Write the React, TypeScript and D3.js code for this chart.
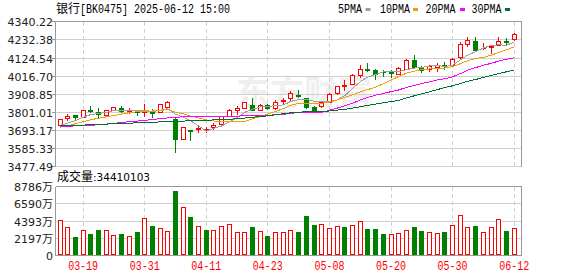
import React from 'react';
import * as d3 from 'd3';

const dates = ['03-14','03-17','03-18','03-19','03-20','03-21','03-24','03-25','03-26','03-27','03-28','03-31','04-01','04-02','04-03','04-07','04-08','04-09','04-10','04-11','04-14','04-15','04-16','04-17','04-18','04-21','04-22','04-23','04-24','04-25','04-28','04-29','04-30','05-06','05-07','05-08','05-09','05-12','05-13','05-14','05-15','05-16','05-19','05-20','05-21','05-22','05-23','05-26','05-27','05-28','05-29','05-30','06-03','06-04','06-05','06-06','06-09','06-10','06-11','06-12'];
const openP = [3721,3764,3782,3774,3810,3802,3786,3810,3824,3808,3804,3802,3800,3802,3828,3759,3641,3692,3699,3693,3709,3731,3778,3810,3824,3842,3814,3842,3826,3868,3882,3903,3886,3832,3834,3862,3912,3956,3970,4018,4057,4051,4040,4038,4028,4059,4108,4061,4055,4067,4079,4079,4126,4207,4225,4180,4190,4201,4223,4237];
const highP = [3762,3788,3782,3812,3836,3824,3814,3832,3834,3826,3808,3846,3820,3850,3866,3771,3711,3693,3715,3709,3733,3780,3816,3834,3862,3884,3848,3848,3870,3882,3926,3930,3886,3834,3862,3912,3958,3992,4026,4081,4091,4057,4050,4053,4067,4114,4140,4075,4081,4093,4096,4122,4217,4245,4245,4211,4193,4249,4241,4273];
const lowP = [3719,3755,3762,3774,3798,3770,3782,3810,3800,3794,3782,3778,3774,3800,3822,3561,3639,3633,3684,3680,3701,3727,3776,3790,3822,3810,3810,3818,3820,3854,3874,3889,3826,3806,3828,3860,3910,3932,3966,4008,4046,3998,4016,4010,4024,4057,4069,4038,4047,4044,4059,4073,4124,4194,4170,4174,4150,4197,4197,4229];
const closeP = [3758,3778,3772,3812,3808,3788,3810,3830,3808,3810,3800,3806,3794,3846,3858,3639,3709,3688,3703,3697,3725,3776,3814,3824,3858,3814,3844,3824,3862,3872,3916,3899,3828,3808,3858,3908,3956,3962,4020,4059,4053,4026,4036,4034,4061,4110,4071,4053,4073,4083,4075,4114,4206,4227,4172,4184,4192,4221,4219,4267];

const ma5 = [3721,3735,3750,3770,3786,3792,3798,3810,3809,3809,3812,3811,3804,3811,3821,3788,3770,3748,3719,3687,3704,3718,3743,3767,3799,3817,3831,3833,3840,3843,3864,3875,3876,3865,3862,3860,3872,3899,3941,3981,4010,4024,4039,4042,4042,4053,4062,4066,4074,4078,4071,4080,4110,4141,4159,4181,4197,4200,4198,4216];
const ma10 = [3711,3719,3731,3743,3755,3764,3772,3780,3788,3797,3802,3804,3807,3810,3815,3800,3790,3776,3766,3754,3747,3744,3746,3744,3744,3761,3774,3788,3804,3821,3841,3853,3854,3853,3853,3862,3873,3887,3903,3921,3935,3948,3969,3991,4012,4032,4044,4053,4057,4060,4062,4071,4088,4107,4119,4126,4138,4155,4170,4188];
const ma20 = [3717,3717,3718,3719,3722,3725,3729,3733,3739,3743,3747,3751,3756,3761,3766,3770,3772,3773,3774,3775,3774,3774,3776,3776,3779,3780,3782,3782,3784,3787,3793,3798,3800,3798,3798,3811,3824,3838,3853,3872,3888,3901,3911,3922,3932,3947,3958,3970,3980,3991,3999,4010,4029,4050,4065,4079,4090,4104,4114,4124];
const ma30 = [3721,3721,3722,3723,3725,3727,3729,3731,3733,3735,3736,3738,3740,3742,3744,3746,3747,3749,3750,3751,3754,3756,3758,3761,3765,3770,3774,3778,3784,3791,3796,3800,3802,3802,3803,3807,3812,3817,3824,3832,3841,3848,3856,3863,3869,3885,3897,3909,3921,3934,3946,3957,3970,3984,3994,4007,4018,4030,4040,4050];

const volume = [4438,3550,2320,3170,2700,3170,3170,2536,2700,2410,2955,4690,3715,3424,3043,8153,6086,4857,3677,3208,3170,3677,3930,2916,2916,3588,3043,2447,2916,2916,3170,2955,4983,3842,3969,3424,3677,3588,3842,4311,3335,3335,2700,2700,2828,3170,3588,3081,2955,2828,2955,3804,5110,3550,3715,2955,3550,4603,3081,3441];
const volDir = 'rrgrggrrgr' + 'grgrrgrgrg' + 'rrrrrgrgrr' + 'rgggrrrgrr' + 'gggrrrggrr' + 'grrrgrrrgr';

const xTickLabels = ['03-19','03-31','04-11','04-23','05-08','05-20','05-30','06-12'];
const priceTicks = [4340.22,4232.38,4124.54,4016.70,3908.85,3801.01,3693.17,3585.33,3477.49];
const volTicks = [0,2197,4393,6590,8786];
const maNames = ['5PMA','10PMA','20PMA','30PMA'];
const maColors = ['#a0a0a0','#f0a000','#ff00ff','#006f30'];

const UP = '#ff0000';
const DOWN = '#008000';
const GRID = '#cfcfcf';
const FRAME = '#999999';
const MONO = '"Liberation Mono", "DejaVu Sans Mono", monospace';
const SANS = '"DejaVu Sans", "Noto Sans CJK SC", sans-serif';
const CJK = '"Noto Sans CJK SC", sans-serif';

export default function App() {
  const left = 55.5, right = 521.5;
  const x = d3.scaleBand<number>().domain(d3.range(dates.length)).range([56.2, 518]);
  const cxRaw = (i: number) => (x(i) as number) + x.step() / 2;
  const cx = (i: number) => Math.floor(cxRaw(i)) + 0.5;
  const y = d3.scaleLinear().domain([3477.49, 4340.22]).range([166.4, 21.3]);
  const yv = d3.scaleLinear().domain([0, 8786]).range([255, 186]);
  const py = (v: number) => Math.round(y(v));
  const mainTop = Math.round(y(4340.22)) + 0.5;
  const mainBot = Math.round(y(3477.49)) + 0.5;
  const volTop = 186.5, volBot = 255.5;

  const tickIdx = xTickLabels.map(l => dates.indexOf(l));
  const line = d3.line<number>().x((_, i) => cxRaw(i)).y(d => y(d));
  const mas = [ma5, ma10, ma20, ma30];

  const legendX = [338, 380, 425.5, 471.5];
  const legendSq = [365.5, 413, 460, 505];

  return (
    <svg width={578} height={276} style={{ position: 'absolute', left: 0, top: 0, background: '#fff' }}>
      <rect x={0} y={0} width={578} height={276} fill="#fff" />
      {/* title */}
      <text x={56} y={13} fontFamily={CJK} fontSize={12} fill="#000">银行</text>
      <text x={80} y={13} fontFamily={MONO} fontSize={12} fill="#000" textLength={150} lengthAdjust="spacingAndGlyphs">[BK0475] 2025-06-12 15:00</text>
      {/* legend */}
      {maNames.map((n, k) => (
        <g key={n}>
          <text x={legendX[k]} y={13} fontFamily={MONO} fontSize={12} fill="#000" textLength={n.length * 6} lengthAdjust="spacingAndGlyphs">{n}</text>
          <rect x={legendSq[k]} y={8} width={5} height={3} fill={maColors[k]} />
        </g>
      ))}

      {/* watermark */}
      <text x={236} y={105} fontFamily={CJK} fontWeight={700} fontSize={34} fill="#000" opacity={0.06}>东方财富</text>

      {/* main grid */}
      <g shapeRendering="crispEdges">
        {priceTicks.map(t => (
          <line key={t} x1={left} x2={right} y1={py(t) + 0.5} y2={py(t) + 0.5} stroke={GRID} />
        ))}
        {tickIdx.map(i => (
          <line key={i} x1={cx(i)} x2={cx(i)} y1={mainTop} y2={mainBot} stroke={GRID} strokeDasharray="4,3" />
        ))}
        <line x1={left} x2={right} y1={mainTop} y2={mainTop} stroke={FRAME} />
        <line x1={left} x2={left} y1={mainTop} y2={mainBot} stroke={FRAME} />
        <line x1={right} x2={right} y1={mainTop} y2={mainBot} stroke={FRAME} />
        {priceTicks.map(t => (
          <line key={'t' + t} x1={52} x2={left} y1={py(t) + 0.5} y2={py(t) + 0.5} stroke={FRAME} />
        ))}
      </g>
      {priceTicks.map(t => (
        <text key={'l' + t} x={53} y={py(t) + 4.5} textAnchor="end" fontFamily={SANS} fontSize={11} fill="#222">{t.toFixed(2)}</text>
      ))}

      {/* candles */}
      <g shapeRendering="crispEdges">
        {dates.map((d, i) => {
          const o = openP[i], c = closeP[i], h = highP[i], l = lowP[i];
          const up = c >= o;
          const col = up ? UP : DOWN;
          const X = cx(i);
          const top = py(Math.max(o, c)), bot = py(Math.min(o, c));
          const bh = bot - top;
          return (
            <g key={d}>
              <line x1={X} x2={X} y1={py(h)} y2={py(l) + 1} stroke={col} />
              {bh < 1 ? (
                <line x1={X - 2.5} x2={X + 2.5} y1={top + 0.5} y2={top + 0.5} stroke={col} />
              ) : up ? (
                <rect x={X - 2} y={top + 0.5} width={4} height={bh} fill="#fff" stroke={col} />
              ) : (
                <rect x={X - 2.5} y={top} width={5} height={bh + 1} fill={col} />
              )}
            </g>
          );
        })}
      </g>

      {/* moving averages */}
      <g fill="none" strokeWidth={1} shapeRendering="crispEdges">
        {mas.map((m, k) => (
          <path key={k} d={line(m) || ''} stroke={maColors[k]} />
        ))}
      </g>

      {/* volume panel */}
      <text x={57} y={181} fontFamily={CJK} fontSize={12} fill="#000">成交量<tspan fontFamily={SANS} fontSize={10.5}>:34410103</tspan></text>
      <g shapeRendering="crispEdges">
        {volTicks.map(t => (
          <line key={t} x1={left} x2={right} y1={Math.round(yv(t)) + 0.5} y2={Math.round(yv(t)) + 0.5} stroke={t === 0 || t === 8786 ? FRAME : GRID} />
        ))}
        {tickIdx.map(i => (
          <line key={i} x1={cx(i)} x2={cx(i)} y1={volTop} y2={volBot} stroke={GRID} strokeDasharray="4,3" />
        ))}
        <line x1={left} x2={left} y1={volTop} y2={volBot} stroke={FRAME} />
        <line x1={right} x2={right} y1={volTop} y2={volBot} stroke={FRAME} />
        {volume.map((v, i) => {
          const X = cx(i);
          const top = Math.round(yv(v));
          const up = volDir[i] === 'r';
          return up ? (
            <rect key={i} x={X - 2} y={top + 0.5} width={4} height={254 - top} fill="#fff" stroke={UP} />
          ) : (
            <rect key={i} x={X - 2.5} y={top} width={5} height={255 - top} fill={DOWN} />
          );
        })}
      </g>
      {volTicks.map(t => (
        <text key={'v' + t} x={53} y={Math.round(yv(t)) + 4.5} textAnchor="end" fontFamily={SANS} fontSize={11} fill="#222">{t === 0 ? '0' : `${t}万`}</text>
      ))}

      {/* x labels */}
      {tickIdx.map((i, k) => (
        <text key={k} x={cxRaw(i) - 15} y={270} fontFamily={MONO} fontSize={12.5} fill="#ff0000" textLength={30} lengthAdjust="spacingAndGlyphs">{xTickLabels[k]}</text>
      ))}
    </svg>
  );
}
